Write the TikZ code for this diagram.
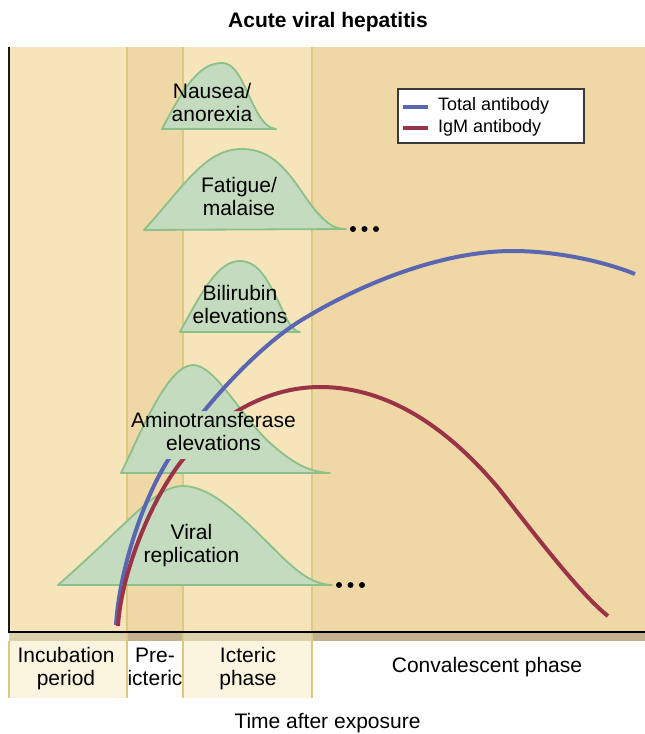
\documentclass[tikz,border=0pt]{standalone}
\usepackage{fontspec}
\setmainfont{Liberation Sans}
\definecolor{colLight}{HTML}{F6E5BB}
\definecolor{colDark}{HTML}{EFD8A6}
\definecolor{divider}{HTML}{DCC97F}
\definecolor{stripLight}{HTML}{DAD0AA}
\definecolor{stripDark}{HTML}{C2B18C}
\definecolor{cream}{HTML}{FBF4DF}
\definecolor{bumpFill}{HTML}{C5DBBF}
\definecolor{bumpLine}{HTML}{8CC08A}
\definecolor{totalBlue}{HTML}{5A66B2}
\definecolor{igmRed}{HTML}{9A3348}
\definecolor{legendEdge}{HTML}{3A3A3A}
\begin{document}
\begin{tikzpicture}[x=1pt,y=-1pt,
  bump/.style={fill=bumpFill,draw=bumpLine,line width=1.8pt,line join=round},
  lbl/.style={align=center,inner sep=0pt,font=\fontsize{21}{23}\selectfont},
  legtxt/.style={anchor=base west,inner sep=0pt,font=\fontsize{18}{21}\selectfont},
  curve/.style={line width=4pt},
  dotmark/.style={fill=black}]
\useasboundingbox (0,0) rectangle (645,734);

% phase columns
\fill[colLight] (9,47) rectangle (127,632);
\fill[colDark] (127,47) rectangle (183,632);
\fill[colLight] (183,47) rectangle (312,632);
\fill[colDark] (312,47) rectangle (645,632);

% shaded strip below the time axis
\fill[stripLight] (9,632) rectangle (127,641);
\fill[stripDark] (127,632) rectangle (183,641);
\fill[stripLight] (183,632) rectangle (312,641);
\fill[stripDark] (312,632) rectangle (645,641);

% phase label boxes
\fill[cream] (9,641) rectangle (127,698);
\fill[cream] (183,641) rectangle (312,698);

% phase dividers
\draw[divider,line width=2pt] (127,47) -- (127,698);
\draw[divider,line width=2pt] (183,47) -- (183,698);
\draw[divider,line width=2pt] (312,47) -- (312,698);
\draw[divider,line width=2pt] (9,641) -- (9,698);

% symptom and marker curves
\path[bump] (162,129) .. controls (185,85) and (200,63) .. (222,63)
  .. controls (238,63) and (245,90) .. (255,108)
  .. controls (262,122) and (268,128) .. (276,129) -- cycle;
\path[bump] (144,230) .. controls (185,185) and (205,149) .. (242,149)
  .. controls (280,149) and (295,185) .. (315,210)
  .. controls (328,225) and (335,229) .. (346,229) -- cycle;
\path[bump] (180,332) .. controls (205,285) and (220,261) .. (240,261)
  .. controls (260,261) and (270,285) .. (280,305)
  .. controls (287,320) and (292,331) .. (300,332) -- cycle;
\path[bump] (121,473) .. controls (142,430) and (168,365) .. (193,365)
  .. controls (215,365) and (240,415) .. (270,443)
  .. controls (295,465) and (310,472) .. (330,473) -- cycle;
\path[bump] (58,585) .. controls (130,522) and (155,486) .. (183,486)
  .. controls (210,486) and (240,515) .. (270,545)
  .. controls (295,570) and (310,584) .. (332,585) -- cycle;

% continuation dots
\fill[dotmark] (353,229) circle[radius=3pt] (364.5,229) circle[radius=3pt] (376,229) circle[radius=3pt];
\fill[dotmark] (339,585) circle[radius=3pt] (350.5,585) circle[radius=3pt] (362,585) circle[radius=3pt];

% curve labels
\node[lbl] (nausea) at (212,104.9) {\strut Nausea/\\\strut anorexia};
\node[lbl] (fatigue) at (239,198.9) {\strut Fatigue/\\\strut malaise};
\node[lbl] (bili) at (240,306.9) {\strut Bilirubin\\\strut elevations};
\node[lbl] (amino) at (213.5,433.9) {\strut Aminotransferase\\\strut elevations};
\node[lbl] (viral) at (191.5,545.9) {\strut Viral\\\strut replication};

% antibody curves, interrupted behind the aminotransferase label
% (outer and inner outlines run in opposite directions, leaving a hole)
\begin{scope}
\clip (0,0) -- (645,0) -- (645,734) -- (0,734) -- cycle
  (140,411) -- (140,459) -- (262,459) -- (262,411) -- cycle;
\draw[curve,totalBlue] (116,625) .. controls (119,575) and (140,505) .. (168,460)
  .. controls (203,406) and (257.5,347.5) .. (300,321)
  .. controls (355,287) and (438,251) .. (513,251)
  .. controls (553,251) and (600,260) .. (635,274);
\draw[curve,igmRed] (118,626) .. controls (121,575) and (150,500) .. (184,458)
  .. controls (212,422) and (262,387) .. (320,387)
  .. controls (390,387) and (450,430) .. (500,490)
  .. controls (535,535) and (583,597) .. (608,616);
\end{scope}

% axes
\draw[black!90,line width=2pt] (9,47) -- (9,633);
\draw[black,line width=1.6pt] (8,632) -- (645,632);

% legend
\node[draw=legendEdge,fill=white,line width=1.5pt,minimum width=186pt,minimum height=54pt,inner sep=0pt] (legend) at (491,116) {};
\coordinate (tA) at (403,107);
\coordinate (tB) at (428,107);
\coordinate (mA) at (403,128);
\coordinate (mB) at (428,128);
\draw[totalBlue,line width=4pt] (tA) -- (tB);
\draw[igmRed,line width=4pt] (mA) -- (mB);
\node[legtxt] (totaltxt) at (438,110) {Total antibody};
\node[legtxt] (igmtxt) at (438,132) {IgM antibody};

% phase names
\node[lbl] (incub) at (66,668.9) {\strut Incubation\\\strut period};
\node[lbl] (preict) at (155,668.9) {\strut Pre-\\\strut icteric};
\node[lbl] (ict) at (248,668.9) {\strut Icteric\\\strut phase};
\node[lbl,anchor=base] (conval) at (487,672) {Convalescent phase};

% title and axis caption
\node[lbl,anchor=base,font=\fontsize{21}{23}\selectfont\bfseries] (title) at (328,27) {Acute viral hepatitis};
\node[lbl,anchor=base] (xcap) at (327.5,728) {Time after exposure};
\end{tikzpicture}
\end{document}
